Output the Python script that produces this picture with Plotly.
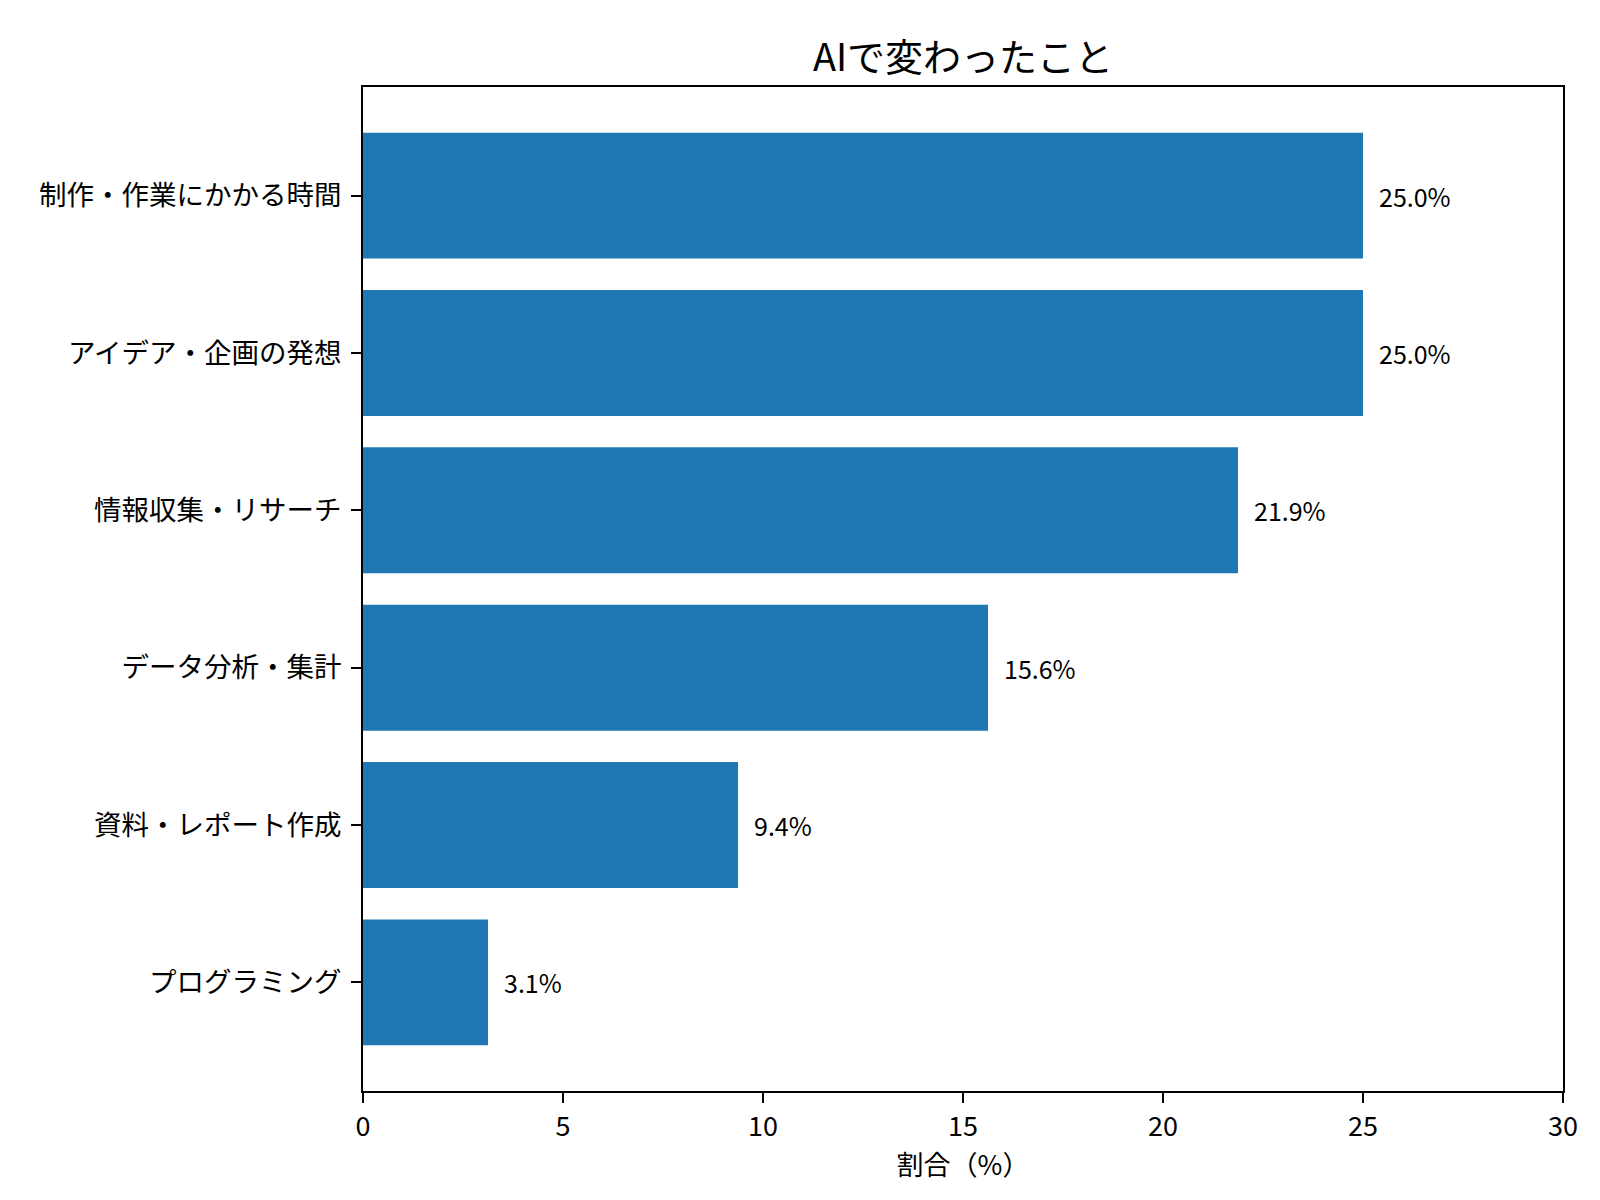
import plotly.graph_objects as go

# categories from bottom to top (matplotlib barh order)
categories = ['プログラミング', '資料・レポート作成', 'データ分析・集計',
              '情報収集・リサーチ', 'アイデア・企画の発想', '制作・作業にかかる時間']
values = [3.125, 9.375, 15.625, 21.875, 25.0, 25.0]
labels = ['3.1%', '9.4%', '15.6%', '21.9%', '25.0%', '25.0%']
x_ticks = [0, 5, 10, 15, 20, 25, 30]

bar_color = '#1f77b4'
font_name = 'Noto Sans CJK JP'
positions = list(range(len(categories)))

fig = go.Figure()

fig.add_trace(go.Bar(
    x=values,
    y=positions,
    orientation='h',
    width=0.8,
    marker=dict(color=bar_color, line=dict(width=0)),
    showlegend=False,
    hoverinfo='skip'
))

# value labels to the right of each bar
for pos, v, lab in zip(positions, values, labels):
    fig.add_annotation(
        x=v + 0.35, y=pos, text=lab, showarrow=False,
        xanchor='left', yanchor='middle',
        font=dict(family=font_name, size=25, color='black')
    )

axis_common = dict(
    showline=True, linecolor='black', linewidth=2, mirror=True,
    ticks='outside', ticklen=10, tickwidth=2, tickcolor='black',
    showgrid=False, zeroline=False,
)

fig.update_layout(
    width=1600, height=1200,
    margin=dict(l=355, r=45, t=79, b=117),
    paper_bgcolor='white', plot_bgcolor='white',
    font=dict(family=font_name, color='black'),
    title=dict(text='AIで変わったこと', x=0.5, xref='paper', xanchor='center',
               y=1, yref='paper', yanchor='bottom', pad=dict(b=16),
               font=dict(family=font_name, size=38, color='black')),
    xaxis=dict(range=[0, 30], tickvals=x_ticks, ticktext=[str(t) for t in x_ticks],
               title=dict(text='割合（%）', standoff=6,
                          font=dict(family=font_name, size=27, color='black')),
               tickfont=dict(family=font_name, size=27, color='black'),
               ticklabelstandoff=1, **axis_common),
    yaxis=dict(range=[-0.69, 5.69], tickvals=positions, ticktext=categories,
               tickfont=dict(family=font_name, size=27.5, color='black'),
               ticklabelstandoff=4, **axis_common),
)

fig.write_html("out.html")
